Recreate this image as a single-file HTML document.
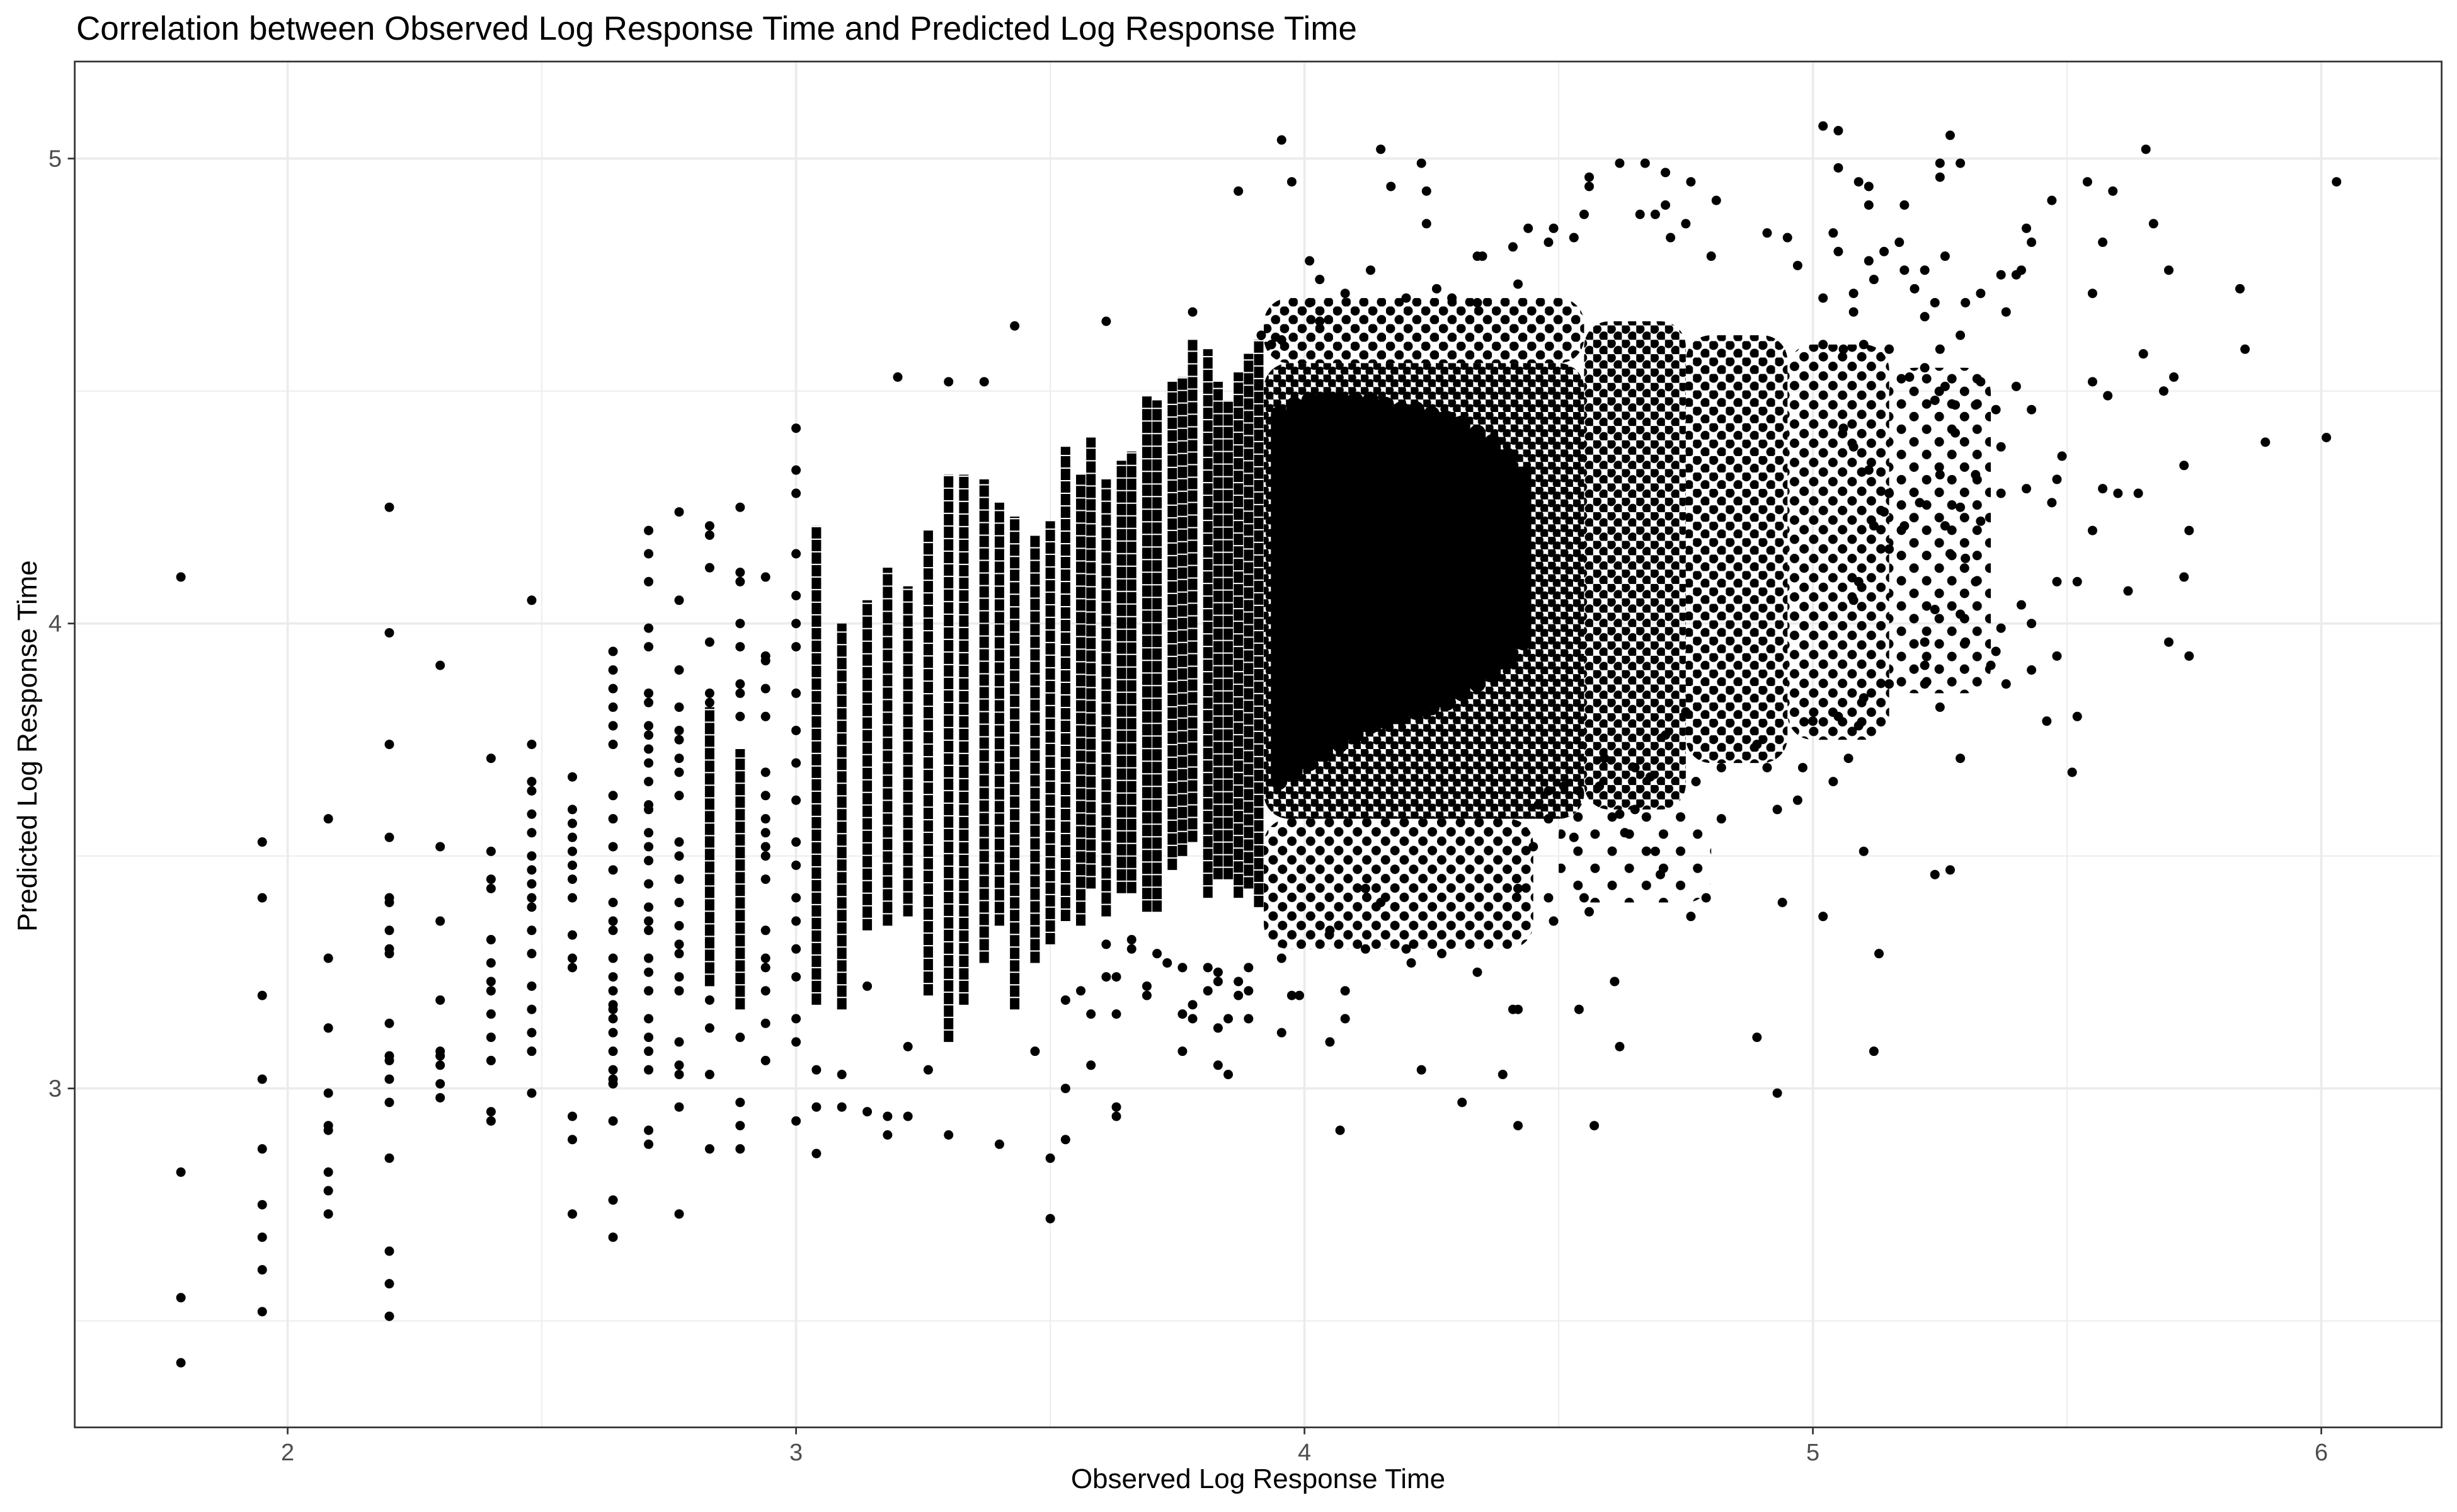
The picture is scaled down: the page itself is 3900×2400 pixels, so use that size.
<!DOCTYPE html>
<html><head><meta charset="utf-8"><style>
html,body{margin:0;padding:0;background:#fff;}
svg{display:block;font-family:"Liberation Sans",Arial,sans-serif;}
</style></head><body>
<svg id="chart" width="3900" height="2400" viewBox="0 0 3900 2400" xmlns="http://www.w3.org/2000/svg">
<defs id="defs"></defs>
<rect x="0" y="0" width="3900" height="2400" fill="#fff"/>
<text x="121" y="63" font-size="53" fill="#000">Correlation between Observed Log Response Time and Predicted Log Response Time</text>
<g id="grid"></g>
<g id="marks"></g>
<rect x="118.6" y="97.7" width="3757" height="2168" fill="none" stroke="#333" stroke-width="2.7"/>
<g id="axes"></g>
<text x="1997" y="2362" font-size="44" text-anchor="middle" fill="#000">Observed Log Response Time</text>
<text x="0" y="0" font-size="44" text-anchor="middle" fill="#000" transform="translate(58,1184) rotate(-90)">Predicted Log Response Time</text>
</svg>
<script>
// ---- data ----
const xTicks = [2, 3, 4, 5, 6];
const xMinor = [2.5, 3.5, 4.5, 5.5];
const yTicks = [3, 4, 5];
const yMinor = [2.5, 3.5, 4.5];
const xTickLabels = ["2", "3", "4", "5", "6"];
const yTickLabels = ["3", "4", "5"];

const colX = [1.79, 1.95, 2.08, 2.20, 2.30, 2.40, 2.48, 2.56, 2.64, 2.71, 2.77, 2.83, 2.89, 2.94, 3.00];
const colY = [
 [4.10, 2.82, 2.55, 2.41],
 [3.53, 3.41, 3.20, 3.02, 2.87, 2.75, 2.68, 2.61, 2.52],
 [3.58, 3.28, 3.13, 2.99, 2.92, 2.91, 2.82, 2.78, 2.73],
 [4.25, 3.98, 3.74, 3.54, 3.41, 3.40, 3.34, 3.30, 3.29, 3.14, 3.07, 3.06, 3.02, 2.97, 2.85, 2.65, 2.58, 2.51],
 [3.91, 3.52, 3.36, 3.19, 3.08, 3.07, 3.05, 3.01, 2.98],
 [3.71, 3.51, 3.45, 3.43, 3.32, 3.27, 3.23, 3.21, 3.16, 3.11, 3.06, 2.95, 2.93],
 [4.05, 3.74, 3.66, 3.64, 3.59, 3.55, 3.50, 3.47, 3.44, 3.41, 3.39, 3.34, 3.29, 3.22, 3.17, 3.12, 3.08, 2.99],
 [3.67, 3.60, 3.57, 3.54, 3.51, 3.48, 3.45, 3.41, 3.33, 3.28, 3.26, 2.94, 2.89, 2.73],
 [3.94, 3.90, 3.86, 3.82, 3.78, 3.74, 3.63, 3.58, 3.52, 3.47, 3.40, 3.36, 3.34, 3.28, 3.24, 3.21, 3.18, 3.17, 3.15, 3.12, 3.08, 3.04, 3.02, 3.01, 2.93, 2.76, 2.68],
 [4.20, 4.15, 4.09, 3.99, 3.95, 3.85, 3.83, 3.78, 3.76, 3.73, 3.70, 3.66, 3.61, 3.60, 3.55, 3.52, 3.49, 3.44, 3.39, 3.36, 3.34, 3.28, 3.25, 3.21, 3.15, 3.11, 3.08, 3.04, 2.91, 2.88],
 [4.24, 4.05, 3.90, 3.82, 3.77, 3.75, 3.71, 3.68, 3.63, 3.53, 3.50, 3.45, 3.40, 3.35, 3.31, 3.29, 3.24, 3.21, 3.10, 3.05, 3.03, 2.96, 2.73],
 [4.21, 4.19, 4.12, 3.96, 3.85, 3.83, 3.19, 3.13, 3.03, 2.87],
 [4.25, 4.11, 4.09, 4.00, 3.95, 3.87, 3.85, 3.80, 3.11, 2.97, 2.92, 2.87],
 [4.10, 3.93, 3.92, 3.86, 3.80, 3.68, 3.63, 3.58, 3.55, 3.52, 3.50, 3.45, 3.34, 3.28, 3.26, 3.21, 3.14, 3.06],
 [4.42, 4.33, 4.28, 4.15, 4.06, 4.00, 3.95, 3.85, 3.77, 3.70, 3.62, 3.53, 3.48, 3.41, 3.36, 3.30, 3.24, 3.15, 3.10, 2.93]
];

const segX  = [2.83, 2.89, 3.04, 3.09, 3.14, 3.18, 3.22, 3.26, 3.30, 3.33, 3.37, 3.40, 3.43, 3.47, 3.50, 3.53, 3.56, 3.58, 3.61, 3.64, 3.66, 3.69, 3.71, 3.74, 3.76, 3.78, 3.81, 3.83, 3.85, 3.87, 3.89, 3.91];
const segLo = [3.22, 3.17, 3.18, 3.17, 3.34, 3.35, 3.37, 3.20, 3.10, 3.18, 3.27, 3.35, 3.17, 3.27, 3.31, 3.36, 3.35, 3.43, 3.37, 3.42, 3.42, 3.38, 3.38, 3.47, 3.50, 3.53, 3.41, 3.45, 3.45, 3.41, 3.43, 3.39];
const segHi = [3.82, 3.73, 4.21, 4.00, 4.05, 4.12, 4.08, 4.20, 4.32, 4.32, 4.31, 4.26, 4.23, 4.19, 4.22, 4.38, 4.32, 4.40, 4.31, 4.35, 4.37, 4.49, 4.48, 4.52, 4.53, 4.61, 4.59, 4.52, 4.48, 4.54, 4.58, 4.61];

const blobX  = [3.95, 3.98, 4.01, 4.04, 4.07, 4.10, 4.13, 4.16, 4.19, 4.22, 4.25, 4.28, 4.31, 4.34, 4.37, 4.40, 4.43];
const blobLo = [3.66, 3.68, 3.70, 3.72, 3.74, 3.76, 3.78, 3.79, 3.80, 3.81, 3.82, 3.83, 3.85, 3.87, 3.89, 3.92, 3.96];
const blobHi = [4.45, 4.47, 4.48, 4.48, 4.48, 4.48, 4.48, 4.47, 4.46, 4.46, 4.45, 4.44, 4.43, 4.41, 4.39, 4.36, 4.32];

const bandX0 = [3.92, 3.92, 3.92, 4.55, 4.75, 4.95, 5.15, 4.50];
const bandX1 = [4.55, 4.45, 4.55, 4.75, 4.95, 5.15, 5.35, 4.80];
const bandLo = [3.58, 3.30, 4.56, 3.60, 3.70, 3.75, 3.85, 3.40];
const bandHi = [4.56, 3.58, 4.70, 4.65, 4.62, 4.60, 4.55, 3.60];
const bandFill = [0.90, 0.40, 0.45, 0.68, 0.52, 0.38, 0.22, 0.12];

const ptX = [3.20,3.43,3.61,3.78,3.87,3.915,3.935,3.955,3.955,3.975,4.01,4.01,4.03,4.03,4.08,4.13,4.15,4.17,4.23,4.24,4.24,4.20,4.26,4.29,4.34,4.34,4.35,4.41,4.42,
 4.07,4.12,4.20,4.21,4.27,4.34,4.31,4.23,4.39,4.42,4.05,4.08,4.08,3.955,3.955,3.975,3.99,3.85,3.85,3.87,3.89,3.89,3.78,3.78,3.81,3.83,3.83,3.76,3.73,3.71,3.69,3.69,3.63,3.63,3.63,3.63,3.66,3.66,4.05,4.12,4.15,
 3.50,3.50,3.53,3.53,3.53,3.40,3.30,3.30,3.37,3.18,3.18,3.14,3.14,3.09,3.09,3.04,3.04,3.04,3.26,3.22,3.22,3.47,3.58,3.58,3.56,3.61,3.61,3.76,3.76,3.81,3.83,3.83,3.87,3.89,
 5.02,5.05,5.27,5.655,6.03,4.62,4.67,4.71,4.56,4.56,4.76,5.05,5.09,5.11,5.11,5.25,5.25,5.29,5.18,5.54,5.59,5.47,5.67,5.57,5.42,5.43,5.70,5.84,5.55,5.85,5.65,5.71,5.69,5.55,5.58,5.89,6.01,5.73,5.49,5.57,5.60,5.64,5.55,5.74,5.73,5.62,5.48,5.52,5.70,5.74,5.48,5.46,5.52,5.51,5.29,5.24,5.27,5.10,5.13,5.12,5.02,4.94,4.93,4.89,4.62,4.61,4.54,4.57,4.42,4.76,4.79,4.70,4.82,4.69,4.55,4.56,4.49,4.48,4.42,4.41,
 5.42,5.47,5.48,5.37,5.40,5.43,5.33,5.33,5.37,5.32,5.29,5.26,5.27,5.30,5.32,5.24,5.29,5.22,5.22,5.22,5.25,5.37,5.41,5.43,5.30,5.36,5.35,5.43,5.38,5.15,5.10,5.05,5.09,5.07,5.04,5.00,4.98,4.97,4.93,4.91,4.89,4.82,4.77,4.75,4.71,4.68,4.65,4.59,4.58,4.54,4.51,4.48,4.46,4.48,4.45,4.53,4.62,4.63,4.65,
 4.44,4.49,4.53,4.48,4.55,4.66,4.69,4.71,4.75,4.72,4.81,4.80,4.91,4.95,4.97,5.04,5.05,5.14,5.17,5.11,5.12,5.18,5.20,5.22,5.26,5.24,5.22,5.25,5.29,5.30,5.33,5.38,5.37,5.40,5.41,5.02,5.08,5.08,5.02,5.06,5.10,5.15,5.19,5.22,5.26,5.28,5.24,5.32,5.36,5.28,5.25,5.21,5.18,5.15,5.12,5.09,5.08,5.14,5.15,5.08,5.06,5.11];
const ptY = [4.53,4.64,4.65,4.67,4.93,4.62,4.60,5.04,4.61,4.95,4.78,4.69,4.74,4.65,4.71,4.76,5.02,4.94,4.99,4.93,4.86,4.70,4.72,4.70,4.79,4.69,4.79,4.81,4.73,
 2.91,3.30,3.30,3.27,3.29,3.25,2.97,3.04,3.03,3.17,3.10,3.21,3.15,3.28,3.12,3.20,3.20,3.03,3.15,3.20,3.21,3.15,3.18,3.15,3.26,3.25,3.23,3.26,3.27,3.29,3.22,3.20,3.24,3.16,2.96,2.94,3.32,3.30,3.34,3.43,3.40,
 2.85,2.72,3.19,3.00,2.89,2.88,2.90,4.52,4.52,2.90,2.94,2.95,3.22,3.03,2.96,3.04,2.96,2.86,3.04,3.09,2.94,3.08,3.16,3.05,3.21,3.24,3.31,3.08,3.16,3.21,3.13,3.05,3.23,3.26,
 5.07,5.06,5.05,5.02,4.95,4.99,4.99,4.97,4.96,4.94,4.95,4.98,4.95,4.94,4.90,4.99,4.96,4.99,4.90,4.95,4.93,4.91,4.86,4.82,4.85,4.82,4.76,4.72,4.71,4.59,4.58,4.53,4.50,4.52,4.49,4.39,4.40,4.34,4.36,4.29,4.28,4.28,4.20,4.20,4.10,4.07,4.09,4.09,3.96,3.93,3.93,3.79,3.80,3.68,3.71,3.46,3.47,3.51,3.29,3.08,3.37,3.40,2.99,3.11,3.09,3.23,3.17,2.92,2.92,3.37,3.41,3.46,3.58,3.51,3.41,3.38,3.36,3.41,3.43,3.17,
 4.29,4.26,4.31,4.38,4.51,4.46,4.52,4.22,4.28,4.32,4.25,4.21,4.15,4.14,4.09,4.03,4.02,3.96,3.91,3.87,3.82,3.99,4.04,4.00,3.96,3.94,3.91,3.90,3.87,3.87,3.84,3.80,3.78,3.71,3.66,3.79,3.69,3.62,3.60,3.69,3.74,3.69,3.66,3.81,3.76,3.67,3.69,3.71,3.65,3.64,3.65,3.64,3.61,3.58,3.52,3.54,3.59,3.55,3.60,
 4.85,4.85,4.83,4.82,4.88,4.88,4.88,4.90,4.86,4.83,4.91,4.79,4.84,4.83,4.77,4.84,4.80,4.80,4.82,4.78,4.74,4.76,4.72,4.76,4.79,4.69,4.66,4.59,4.62,4.69,4.71,4.67,4.75,4.75,4.76,4.70,4.71,4.67,4.60,4.59,4.60,4.59,4.53,4.55,4.51,4.47,4.48,4.47,4.46,4.41,4.32,4.26,4.21,4.16,4.21,4.09,4.05,4.24,4.28,4.38,4.42,4.33];

// ---- scales ----
const X0 = 456.6, XS = 807, Y0 = 251.7, YS = 738;
const PL = 118.6, PR = 3875.6, PT = 97.7, PB = 2265.7;
function sx(v) { return X0 + (v - 2) * XS; }
function sy(v) { return Y0 + (5 - v) * YS; }

const NS = "http://www.w3.org/2000/svg";
function mk(tag, attrs, parent) {
  const e = document.createElementNS(NS, tag);
  for (const k in attrs) e.setAttribute(k, attrs[k]);
  parent.appendChild(e);
  return e;
}
const defs = document.getElementById("defs");
const grid = document.getElementById("grid");
const marks = document.getElementById("marks");
const axes = document.getElementById("axes");

xMinor.forEach(v => {
  const l = mk("line", {x1: sx(v), x2: sx(v), y1: PT, y2: PB, stroke: "#ebebeb", "stroke-width": 1.8}, grid);
  
  
});
yMinor.forEach(v => {
  const l = mk("line", {x1: PL, x2: PR, y1: sy(v), y2: sy(v), stroke: "#ebebeb", "stroke-width": 1.8}, grid);
  
  
});
xTicks.forEach(v => {
  const l = mk("line", {x1: sx(v), x2: sx(v), y1: PT, y2: PB, stroke: "#ebebeb", "stroke-width": 3.6}, grid);
  
  
});
yTicks.forEach(v => {
  const l = mk("line", {x1: PL, x2: PR, y1: sy(v), y2: sy(v), stroke: "#ebebeb", "stroke-width": 3.6}, grid);
  
  
});

for (let i = 0; i < bandX0.length; i++) {
  const s = 18.8 / Math.sqrt(bandFill[i]);
  const p = mk("pattern", {id: "dots" + i, width: s, height: s, patternUnits: "userSpaceOnUse", x: i * 7, y: i * 5}, defs);
  mk("circle", {cx: s / 4, cy: s / 4, r: 7.5, fill: "#000"}, p);
  mk("circle", {cx: 3 * s / 4, cy: 3 * s / 4, r: 7.5, fill: "#000"}, p);
  const r = mk("rect", {x: sx(bandX0[i]), y: sy(bandHi[i]), width: sx(bandX1[i]) - sx(bandX0[i]), height: sy(bandLo[i]) - sy(bandHi[i]), fill: "url(#dots" + i + ")", rx: 40}, marks);
  
  
}
for (let i = 0; i < blobX.length; i++) {
  const l = mk("line", {x1: sx(blobX[i]), x2: sx(blobX[i]), y1: sy(blobLo[i]), y2: sy(blobHi[i]), stroke: "#000", "stroke-width": 26, "stroke-linecap": "round"}, marks);
  
  
}
for (let i = 0; i < segX.length; i++) {
  const l = mk("line", {x1: sx(segX[i]), x2: sx(segX[i]), y1: sy(segLo[i]), y2: sy(segHi[i]), stroke: "#000", "stroke-width": 15, "stroke-dasharray": "18 2"}, marks);
  
  
}
for (let i = 0; i < colX.length; i++) {
  colY[i].forEach(v => {
    const c = mk("circle", {cx: sx(colX[i]), cy: sy(v), r: 7.5, fill: "#000"}, marks);
    
    
  });
}
for (let i = 0; i < ptX.length; i++) {
  const c = mk("circle", {cx: sx(ptX[i]), cy: sy(ptY[i]), r: 7.5, fill: "#000"}, marks);
  
  
}

xTicks.forEach((v, i) => {
  const t = mk("line", {x1: sx(v), x2: sx(v), y1: PB, y2: PB + 11, stroke: "#333", "stroke-width": 2.7}, axes);
  
  
  const tx = mk("text", {x: sx(v), y: 2318, "font-size": 38, fill: "#4d4d4d", "text-anchor": "middle"}, axes);
  tx.textContent = xTickLabels[i];
  
  
});
yTicks.forEach((v, i) => {
  const t = mk("line", {x1: PL - 11, x2: PL, y1: sy(v), y2: sy(v), stroke: "#333", "stroke-width": 2.7}, axes);
  
  
  const tx = mk("text", {x: 98, y: sy(v) + 13, "font-size": 38, fill: "#4d4d4d", "text-anchor": "end"}, axes);
  tx.textContent = yTickLabels[i];
  
  
});
</script>
</body></html>
